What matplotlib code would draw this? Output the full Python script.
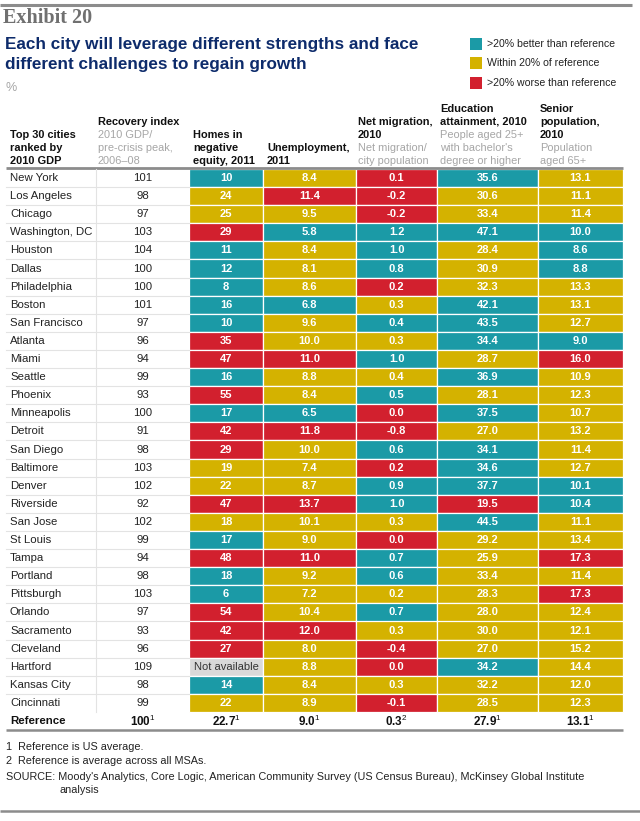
import matplotlib.pyplot as plt

plt.rcParams['font.family'] = ['Liberation Sans', 'DejaVu Sans']
plt.rcParams['mathtext.fontset'] = 'custom'
plt.rcParams['mathtext.rm'] = 'Liberation Sans'
plt.rcParams['mathtext.bf'] = 'Liberation Sans:bold'

cities = ["New York", "Los Angeles", "Chicago", "Washington, DC", "Houston", "Dallas",
          "Philadelphia", "Boston", "San Francisco", "Atlanta", "Miami", "Seattle",
          "Phoenix", "Minneapolis", "Detroit", "San Diego", "Baltimore", "Denver",
          "Riverside", "San Jose", "St Louis", "Tampa", "Portland", "Pittsburgh",
          "Orlando", "Sacramento", "Cleveland", "Hartford", "Kansas City", "Cincinnati"]
recovery = [101, 98, 97, 103, 104, 100, 100, 101, 97, 96, 94, 99, 93, 100, 91, 98,
            103, 102, 92, 102, 99, 94, 98, 103, 97, 93, 96, 109, 98, 99]
homes = [10, 24, 25, 29, 11, 12, 8, 16, 10, 35, 47, 16, 55, 17, 42, 29, 19, 22, 47,
         18, 17, 48, 18, 6, 54, 42, 27, None, 14, 22]
unemployment = [8.4, 11.4, 9.5, 5.8, 8.4, 8.1, 8.6, 6.8, 9.6, 10.0, 11.0, 8.8, 8.4,
                6.5, 11.8, 10.0, 7.4, 8.7, 13.7, 10.1, 9.0, 11.0, 9.2, 7.2, 10.4,
                12.0, 8.0, 8.8, 8.4, 8.9]
migration = [0.1, -0.2, -0.2, 1.2, 1.0, 0.8, 0.2, 0.3, 0.4, 0.3, 1.0, 0.4, 0.5, 0.0,
             -0.8, 0.6, 0.2, 0.9, 1.0, 0.3, 0.0, 0.7, 0.6, 0.2, 0.7, 0.3, -0.4, 0.0,
             0.3, -0.1]
education = [35.6, 30.6, 33.4, 47.1, 28.4, 30.9, 32.3, 42.1, 43.5, 34.4, 28.7, 36.9,
             28.1, 37.5, 27.0, 34.1, 34.6, 37.7, 19.5, 44.5, 29.2, 25.9, 33.4, 28.3,
             28.0, 30.0, 27.0, 34.2, 32.2, 28.5]
senior = [13.1, 11.1, 11.4, 10.0, 8.6, 8.8, 13.3, 13.1, 12.7, 9.0, 16.0, 10.9, 12.3,
          10.7, 13.2, 11.4, 12.7, 10.1, 10.4, 11.1, 13.4, 17.3, 11.4, 17.3, 12.4,
          12.1, 15.2, 14.4, 12.0, 12.3]

# b = >20% better, w = within 20%, r = >20% worse, n = not available
homes_cat = "bwwrbbbbbrrbrbrrwwrwbrbbrrrnbw"
unemp_cat = "wrwbwwwbwwrwwbrwwwrwwrwwwrwwww"
migr_cat = "rrrbbbrwbwbwbrrbrbbwrbbwbwrrwr"
edu_cat = "bwwbwwwbbbwbwbwbbbrbwwwwwwwbww"
senior_cat = "wwwbbbwwwbrwwwwwwbbwwrwrwwwwww"

reference = ["100", "22.7", "9.0", "0.3", "27.9", "13.1"]
ref_note = ["1", "1", "1", "2", "1", "1"]

legend_labels = [">20% better than reference", "Within 20% of reference",
                 ">20% worse than reference"]

palette = {"b": "#1b9aa6", "w": "#d4b200", "r": "#d2202e", "n": "#d9d9d9"}
grey_line = "#8c8c8c"
grey_text = "#a6a6a6"

fig = plt.figure(figsize=(6.4, 8.21), dpi=100)
ax = fig.add_axes([0, 0, 1, 1])
ax.set_xlim(0, 640)
ax.set_ylim(821, 0)
ax.axis("off")

# top / bottom rules
ax.plot([0, 632], [5, 5], color=grey_line, lw=2.2, solid_capstyle="butt")
ax.plot([0, 640], [811, 811], color=grey_line, lw=1.8, solid_capstyle="butt")

ax.text(3, 18, "Exhibit 20", family="Liberation Serif", fontweight="bold",
        fontsize=14.5, color="#707070", va="center")
ax.text(5, 45, "Each city will leverage different strengths and face",
        fontsize=12.3, fontweight="bold", color="#0d2b6b", va="center")
ax.text(5, 65, "different challenges to regain growth",
        fontsize=12.3, fontweight="bold", color="#0d2b6b", va="center")
ax.text(6, 88, "%", fontsize=9, color=grey_text, va="center")

for i, (lab, key) in enumerate(zip(legend_labels, "bwr")):
    y = 44 + i * 19.5
    ax.bar(476, 12, width=12, bottom=y - 6, color=palette[key])
    ax.text(487, y, lab, fontsize=7.6, color="#222222", va="center")

# header
col_edges = [6, 96, 189, 263, 356, 437, 538, 623]
head_x = [10, 98, 193, 267, 358, 440, 540]
headers = [
    [("Top 30 cities", True), ("ranked by", True), ("2010 GDP", True)],
    [("Recovery index", True), ("2010 GDP/", False), ("pre-crisis peak,", False), ("2006–08", False)],
    [("Homes in", True), ("negative", True), ("equity, 2011", True)],
    [("Unemployment,", True), ("2011", True)],
    [("Net migration,", True), ("2010", True), ("Net migration/", False), ("city population", False)],
    [("Education", True), ("attainment, 2010", True), ("People aged 25+", False),
     ("with bachelor's", False), ("degree or higher", False)],
    [("Senior", True), ("population,", True), ("2010", True), ("Population", False), ("aged 65+", False)],
]
line_h = 13
for x, lines in zip(head_x, headers):
    n = len(lines)
    for k, (txt, bold) in enumerate(lines):
        y = 161 - (n - 1 - k) * line_h
        ax.text(x, y, txt, fontsize=7.9, fontweight="bold" if bold else "normal",
                color="#111111" if bold else grey_text, va="center")

top = 169
rh = 18.1
ax.plot([col_edges[0], col_edges[-1]], [top - 1, top - 1], color=grey_line, lw=2,
        solid_capstyle="butt")

n_rows = len(cities)
row_tops = [top + i * rh for i in range(n_rows)]

# left columns: names and recovery index
for i, (c, r) in enumerate(zip(cities, recovery)):
    yc = row_tops[i] + rh / 2
    ax.text(10, yc, c, fontsize=8.2, color="#222222", va="center")
    ax.text((col_edges[1] + col_edges[2]) / 2, yc, str(r), fontsize=8.2,
            color="#222222", va="center", ha="center")
    if i > 0:
        ax.plot([col_edges[0], col_edges[2]], [row_tops[i], row_tops[i]],
                color="#e3e3e3", lw=0.8)
ax.plot([col_edges[1], col_edges[1]], [top, top + n_rows * rh], color="#e3e3e3", lw=0.8)

# coloured columns
metrics = [(homes, homes_cat, "{:d}"), (unemployment, unemp_cat, "{:.1f}"),
           (migration, migr_cat, "{:.1f}"), (education, edu_cat, "{:.1f}"),
           (senior, senior_cat, "{:.1f}")]
for j, (vals, cats, fmt) in enumerate(metrics):
    x0 = col_edges[j + 2]
    w = col_edges[j + 3] - x0
    ax.bar([x0] * n_rows, [rh] * n_rows, width=w, bottom=row_tops, align="edge",
           color=[palette[c] for c in cats], edgecolor="white", linewidth=0.9)
    for i, v in enumerate(vals):
        yc = row_tops[i] + rh / 2
        if v is None:
            ax.text(x0 + w / 2, yc, "Not available", fontsize=8, color="#333333",
                    va="center", ha="center")
        else:
            ax.text(x0 + w / 2, yc, fmt.format(v), fontsize=8, fontweight="bold",
                    color="white", va="center", ha="center")

# reference row
ref_y = top + n_rows * rh
ax.text(10, ref_y + 9, "Reference", fontsize=8.2, fontweight="bold", color="#111111",
        va="center")
for j, (v, note) in enumerate(zip(reference, ref_note)):
    xc = (col_edges[j + 1] + col_edges[j + 2]) / 2
    ax.text(xc, ref_y + 9, r"$\mathbf{%s}^{\mathrm{%s}}$" % (v, note), fontsize=8.4,
            color="#111111", va="center", ha="center")
ax.plot([col_edges[0], col_edges[-1]], [ref_y + 18, ref_y + 18], color=grey_line, lw=1.8,
        solid_capstyle="butt")

# footnotes
ax.text(6, 747, "1  Reference is US average.", fontsize=7.8, color="#222222", va="center")
ax.text(6, 761, "2  Reference is average across all MSAs.", fontsize=7.8, color="#222222",
        va="center")
ax.text(6, 777, "SOURCE: Moody's Analytics, Core Logic, American Community Survey (US Census Bureau), McKinsey Global Institute",
        fontsize=7.8, color="#222222", va="center")
ax.text(60, 790, "analysis", fontsize=7.8, color="#222222", va="center")

fig.savefig("out.png", dpi=100, facecolor="white")
